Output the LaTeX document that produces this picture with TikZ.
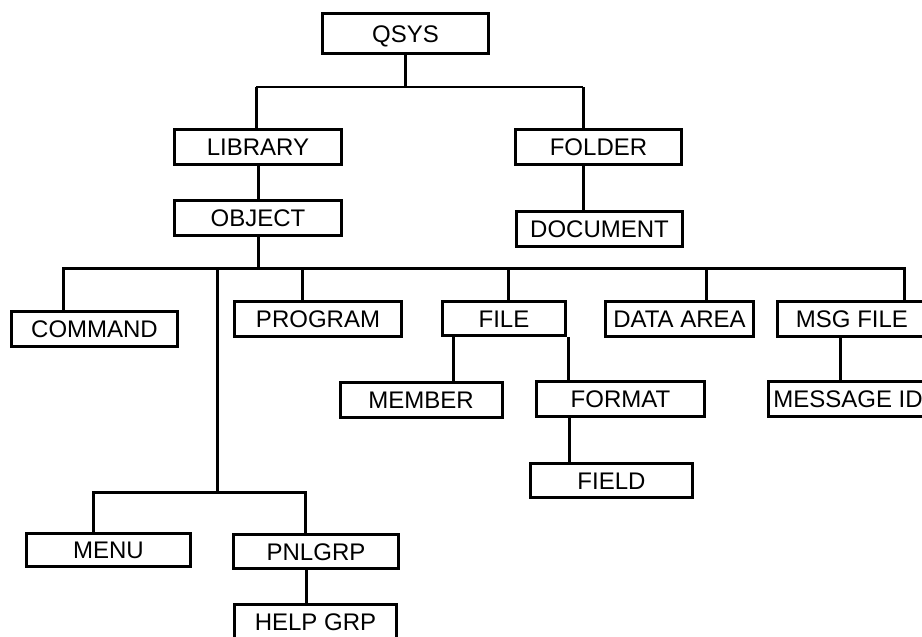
\documentclass[tikz,border=0pt]{standalone}
\usepackage{fontspec}
\setmainfont{Liberation Sans}
\begin{document}
\begin{tikzpicture}[x=1pt,y=-1pt,
  box/.style={draw, line width=3pt, inner sep=0pt, minimum height=35pt,
    text height=17pt, text depth=0pt, font=\fontsize{24}{24}\selectfont},
  link/.style={line width=3pt},
  thinlink/.style={line width=1.4pt}]
\useasboundingbox (0,0) rectangle (922,637);
\clip (0,0) rectangle (922,637);

% boxes
\node[box, minimum width=166pt, minimum height=40pt] (qsys) at (405.5,33.5) {QSYS};
\node[box, minimum width=167pt] (library)  at (258,147)   {LIBRARY};
\node[box, minimum width=166pt] (folder)   at (598.5,147) {FOLDER};
\node[box, minimum width=167pt] (object)   at (258,218)   {OBJECT};
\node[box, minimum width=166pt] (document) at (599.5,229) {DOCUMENT};
\node[box, minimum width=166pt] (command)  at (94.5,329)  {COMMAND};
\node[box, minimum width=167pt] (program)  at (318,319)   {PROGRAM};
\node[box, minimum width=123pt, minimum height=34pt] (file) at (504,318.5) {FILE};
\node[box, minimum width=148pt] (dataarea) at (679.5,319) {DATA AREA};
\node[box, minimum width=149pt] (msgfile)  at (852,319)   {MSG FILE};
\node[box, minimum width=162pt] (member)   at (421,400)   {MEMBER};
\node[box, minimum width=168pt] (format)   at (620.5,399) {FORMAT};
\node[box, minimum width=160pt] (messageid) at (848,399)  {MESSAGE ID};
\node[box, minimum width=162pt, minimum height=34pt] (field) at (611.5,480.5) {FIELD};
\node[box, minimum width=164pt, minimum height=33pt] (menu) at (108.5,550) {MENU};
\node[box, minimum width=165pt, minimum height=34pt] (pnlgrp) at (316,551.5) {PNLGRP};
\node[box, minimum width=162pt] (helpgrp)  at (315.5,622) {HELP GRP};

% junction points of the buses
\coordinate (tbL) at (256,87);
\coordinate (tbR) at (583,87);
\coordinate (busL) at (63,268);
\coordinate (busR) at (904,268);
\coordinate (split) at (217,492);

% QSYS level
\draw[link] (qsys.south) -- (qsys.south |- tbL);
\draw[thinlink] (tbL) -- (tbR);
\draw[link] (tbL) -- (tbL |- library.north);
\draw[link] (tbR) -- (tbR |- folder.north);
\draw[link] (tbR |- folder.south) -- (tbR |- document.north);
\draw[link] (library.south) -- (object.north);

% object bus
\draw[link] (object.south) -- (object.south |- busL);
\draw[link] (busL |- command.north) -- (busL) -- (busR) -- (busR |- msgfile.north);
\draw[link] ([xshift=-16pt]program.north) -- ([xshift=-16pt]program.north |- busL);
\draw[link] ([xshift=4pt]file.north) -- ([xshift=4pt]file.north |- busL);
\draw[link] ([xshift=26.5pt]dataarea.north) -- ([xshift=26.5pt]dataarea.north |- busL);

% file members
\draw[link] ([xshift=-51pt]file.south) -- ([xshift=-51pt]file.south |- member.north);
\draw[link] ([xshift=64pt]file.south) -- ([xshift=64pt]file.south |- format.north);
\draw[link] ([xshift=-51.5pt]format.south) -- ([xshift=-51.5pt]format.south |- field.north);

% message file
\draw[link] ([xshift=-12pt]msgfile.south) -- ([xshift=-12pt]msgfile.south |- messageid.north);

% menu and panel group
\draw[link] (busL -| split) -- (split);
\draw[link] ([xshift=-15.5pt]menu.north) |- (split) -| ([xshift=-11pt]pnlgrp.north);
\draw[link] ([xshift=-10pt]pnlgrp.south) -- ([xshift=-10pt]pnlgrp.south |- helpgrp.north);
\end{tikzpicture}
\end{document}
